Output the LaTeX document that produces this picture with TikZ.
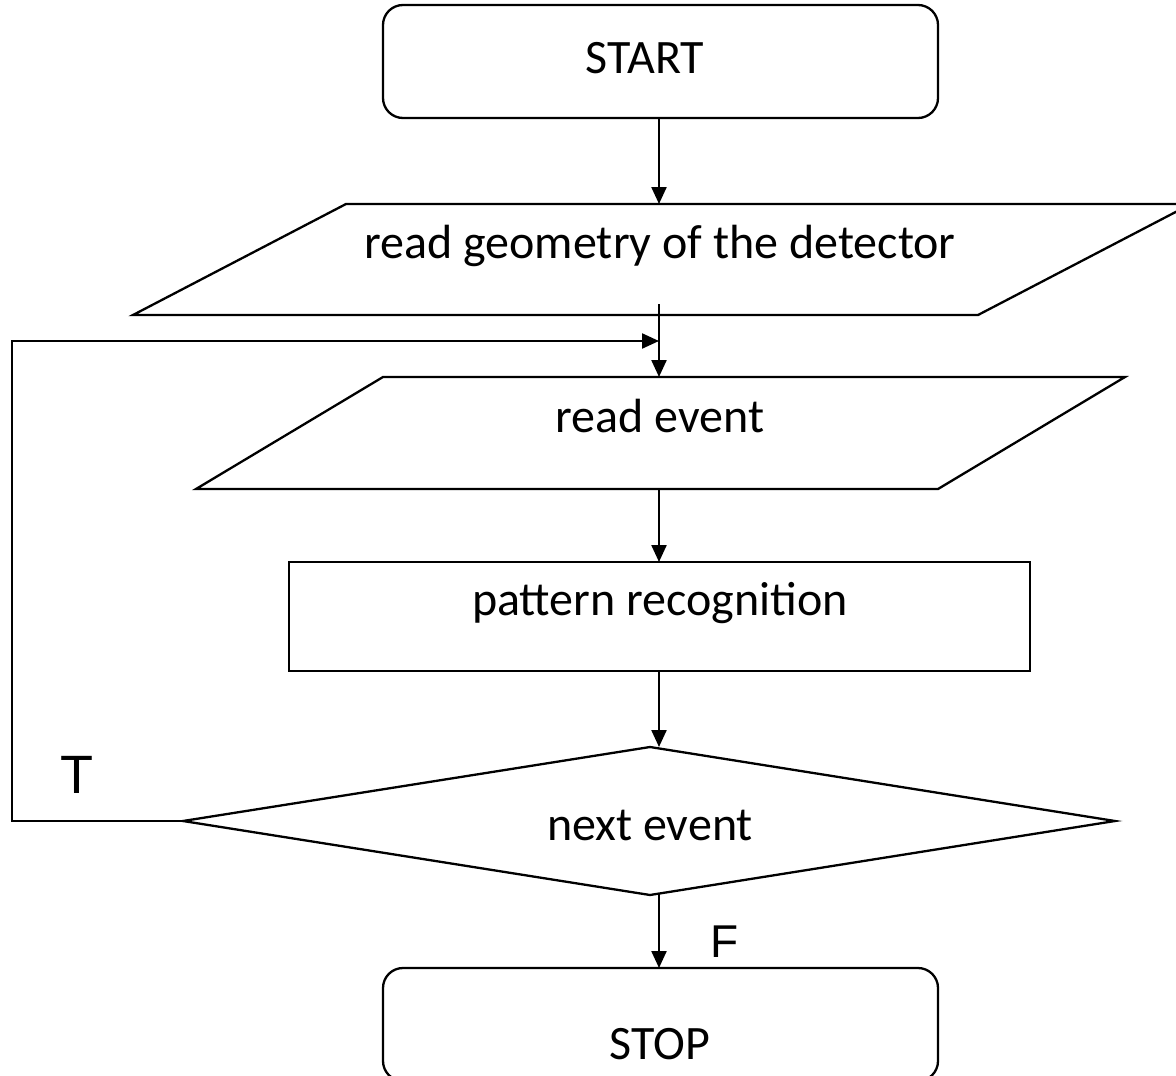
\documentclass[tikz,border=0pt]{standalone}
\usepackage{fontspec}
\setmainfont{Carlito}
\newfontfamily\tffont{Liberation Sans}
\usetikzlibrary{arrows.meta}
\begin{document}
\begin{tikzpicture}[x=1pt,y=-1pt,
  shape line/.style={draw=black,line width=2.3pt,line join=miter},
  conn/.style={draw=black,line width=2.3pt,-{Triangle[length=17pt,width=15pt]}},
  lbl/.style={font=\fontsize{48}{56}\selectfont,inner sep=0pt,anchor=center},
  tf/.style={font=\tffont,inner sep=0pt,anchor=center}]
\useasboundingbox (0,0) rectangle (1176,1076);
\clip (0,0) rectangle (1176,1076);
\fill[white] (0,0) rectangle (1176,1076);
% shapes
\draw[shape line,rounded corners=20pt] (383,5) rectangle (938,118);
\draw[shape line] (346,204) -- (1191,204) -- (978,315) -- (133,315) -- cycle;
\draw[shape line] (383,377) -- (1125,377) -- (938,489) -- (196,489) -- cycle;
\draw[shape line] (289,562) rectangle (1030,671);
\draw[shape line] (650,747) -- (1115,821) -- (650,895) -- (183,821) -- cycle;
\draw[shape line,rounded corners=20pt] (383,968) rectangle (938,1081);
% text nodes
\node[lbl] (start) at (645,58) {START};
\node[lbl] (geo) at (660,246) {read geometry of the detector};
\node[lbl] (ev) at (660,416) {read event};
\node[lbl] (pr) at (660,603) {pattern recognition};
\node[lbl] (ne) at (650,825) {next event};
\node[lbl] (stop) at (660,1044) {STOP};
\node[tf,font=\tffont\fontsize{54}{60}\selectfont] (T) at (77,775) {T};
\node[tf,font=\tffont\fontsize{46}{52}\selectfont] (F) at (725,942) {F};
% connector coordinates
\coordinate (a1) at (659,118);
\coordinate (a2) at (659,204);
\coordinate (b1) at (659,304);
\coordinate (b2) at (659,377);
\coordinate (c1) at (659,489);
\coordinate (c2) at (659,562);
\coordinate (d1) at (659,671);
\coordinate (d2) at (659,747);
\coordinate (e1) at (659,893);
\coordinate (e2) at (659,968);
\coordinate (l0) at (183,821);
\coordinate (l1) at (12,821);
\coordinate (l2) at (12,341);
\coordinate (l3) at (659,341);
% connectors
\draw[conn] (a1) -- (a2);
\draw[conn] (b1) -- (b2);
\draw[conn] (c1) -- (c2);
\draw[conn] (d1) -- (d2);
\draw[conn] (e1) -- (e2);
\draw[conn] (l0) -- (l1) -- (l2) -- (l3);
\end{tikzpicture}
\end{document}
